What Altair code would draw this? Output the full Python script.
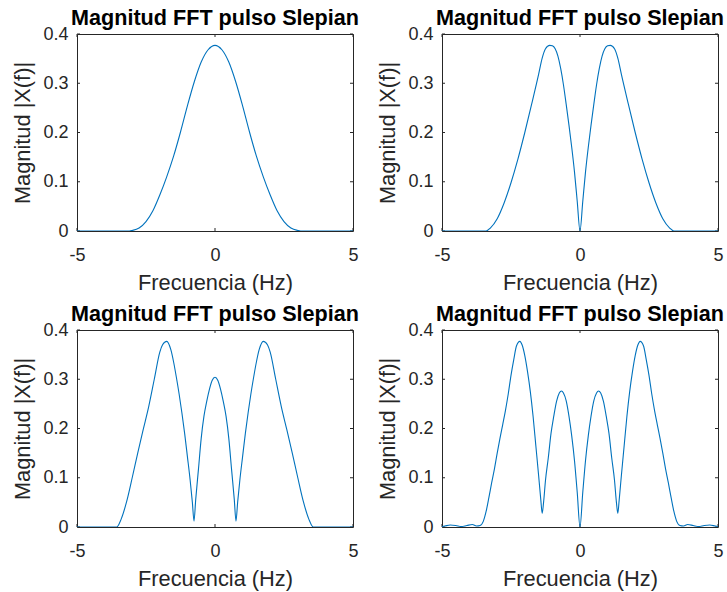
import altair as alt
import pandas as pd

# Values (positive-frequency half; spectra are symmetric)
f1 = [0, 0.25, 0.5, 0.75, 1.0, 1.25, 1.5, 1.75, 2.0, 2.25, 2.5, 2.75, 3.0, 3.1, 5.0]
v1 = [0.377, 0.368, 0.343, 0.303, 0.254, 0.201, 0.152, 0.110, 0.073, 0.041, 0.019, 0.006, 0.001, 0.0, 0.0]

f2 = [0, 0.1, 0.2, 0.3, 0.4, 0.5, 0.6, 0.7, 0.8, 0.9, 1.0, 1.1, 1.25, 1.375, 1.5, 1.75,
      2.0, 2.25, 2.5, 2.75, 3.0, 3.25, 3.4, 5.0]
v2 = [0.0, 0.06, 0.12, 0.17, 0.215, 0.257, 0.297, 0.330, 0.355, 0.370, 0.376, 0.377, 0.370,
      0.350, 0.318, 0.258, 0.200, 0.146, 0.098, 0.057, 0.025, 0.006, 0.0, 0.0]

f3 = [0, 0.1, 0.2, 0.3, 0.4, 0.5, 0.6, 0.7, 0.76, 0.82, 0.9, 1.0, 1.1, 1.2, 1.3, 1.4, 1.5,
      1.6, 1.75, 1.9, 2.0, 2.2, 2.4, 2.6, 2.8, 3.0, 3.2, 3.4, 3.56, 5.0]
v3 = [0.304, 0.298, 0.280, 0.255, 0.225, 0.180, 0.117, 0.055, 0.012, 0.050, 0.095, 0.143,
      0.190, 0.232, 0.270, 0.304, 0.335, 0.360, 0.377, 0.370, 0.355, 0.300, 0.245, 0.198,
      0.150, 0.100, 0.052, 0.016, 0.0, 0.0]

f4 = [0, 0.1, 0.2, 0.3, 0.4, 0.5, 0.6, 0.67, 0.75, 0.85, 0.95, 1.05, 1.15, 1.25, 1.32, 1.37,
      1.42, 1.5, 1.6, 1.7, 1.8, 1.9, 2.0, 2.1, 2.18, 2.3, 2.4, 2.5, 2.6, 2.7, 2.8, 2.9, 3.0,
      3.1, 3.2, 3.3, 3.4, 3.5, 3.62, 3.75, 3.9, 4.1, 4.3, 4.5, 4.7, 4.9, 5.0]
v4 = [0.0, 0.07, 0.135, 0.185, 0.225, 0.256, 0.272, 0.276, 0.272, 0.255, 0.225, 0.190, 0.140,
      0.095, 0.050, 0.028, 0.055, 0.105, 0.165, 0.225, 0.275, 0.315, 0.348, 0.370, 0.377,
      0.368, 0.340, 0.308, 0.270, 0.237, 0.208, 0.180, 0.150, 0.118, 0.090, 0.060, 0.032,
      0.012, 0.003, 0.002, 0.005, 0.003, 0.001, 0.003, 0.004, 0.002, 0.001]

x_ticks = [-5, 0, 5]
y_ticks = [0, 0.1, 0.2, 0.3, 0.4]
panel_title = "Magnitud FFT pulso Slepian"
x_title = "Frecuencia (Hz)"
y_title = "Magnitud |X(f)|"

W, H = 276, 197
FONT = "Liberation Sans"
AX = "#262626"
BLUE = "#0072BD"


def mirror(f, v):
    ff = [-x for x in reversed(f) if x != 0] + list(f)
    vv = [y for x, y in zip(reversed(f), reversed(v)) if x != 0] + list(v)
    return ff, vv


XS = alt.Scale(domain=[-5, 5], nice=False, zero=False)
YS = alt.Scale(domain=[0, 0.4], nice=False)
XAX = alt.Axis(values=x_ticks, title=x_title, labelExpr="datum.value",
               labelFlush=False, labelPadding=15, ticks=False, tickSize=0,
               domain=False, grid=False, titleY=58, titleBaseline="alphabetic")
YAX = alt.Axis(values=y_ticks, title=y_title, format=".1~f",
               labelPadding=9, ticks=False, tickSize=0, domain=False, grid=False,
               titleAngle=270, titleX=-48, titleY=H / 2, titleAlign="center",
               titleBaseline="alphabetic")


def panel(f, v):
    ff, vv = mirror(f, v)
    df = pd.DataFrame({"f": ff, "v": vv})
    line = alt.Chart(df).mark_line(color=BLUE, strokeWidth=1.1, clip=True,
                                   interpolate="monotone").encode(
        x=alt.X("f:Q", scale=XS, axis=XAX),
        y=alt.Y("v:Q", scale=YS, axis=YAX),
    )
    ydf = pd.DataFrame({"f": [0.0] * len(y_ticks), "v": y_ticks})
    xdf = pd.DataFrame({"f": x_ticks, "v": [0.0] * len(x_ticks)})
    tl = alt.Chart(ydf).mark_rule(color=AX, strokeWidth=1).encode(
        y=alt.Y("v:Q", scale=YS, axis=YAX), x=alt.value(0), x2=alt.value(3))
    tr = alt.Chart(ydf).mark_rule(color=AX, strokeWidth=1).encode(
        y=alt.Y("v:Q", scale=YS, axis=YAX), x=alt.value(W - 3), x2=alt.value(W))
    tb = alt.Chart(xdf).mark_rule(color=AX, strokeWidth=1).encode(
        x=alt.X("f:Q", scale=XS, axis=XAX), y=alt.value(H), y2=alt.value(H - 3))
    tt = alt.Chart(xdf).mark_rule(color=AX, strokeWidth=1).encode(
        x=alt.X("f:Q", scale=XS, axis=XAX), y=alt.value(0), y2=alt.value(3))
    return alt.layer(tl, tr, tb, tt, line).properties(
        width=W, height=H,
        title=alt.TitleParams(text=panel_title, font=FONT, fontSize=21.6, fontWeight="bold",
                              color="#000000", anchor="middle", frame="group",
                              baseline="alphabetic", offset=-22),
    )


chart = alt.concat(
    panel(f1, v1), panel(f2, v2), panel(f3, v3), panel(f4, v4),
    columns=2, spacing={"row": 99, "column": 89}, bounds="flush",
).properties(
    padding={"left": 11, "top": 7, "right": 0, "bottom": 0},
    background="white",
).configure_view(
    stroke=AX, strokeWidth=1,
).configure_axis(
    labelFont=FONT, labelFontSize=18, labelColor=AX,
    titleFont=FONT, titleFontSize=21.8, titleFontWeight="normal", titleColor=AX,
)

chart.save("out.html", embed_options={"renderer": "svg", "actions": False})
